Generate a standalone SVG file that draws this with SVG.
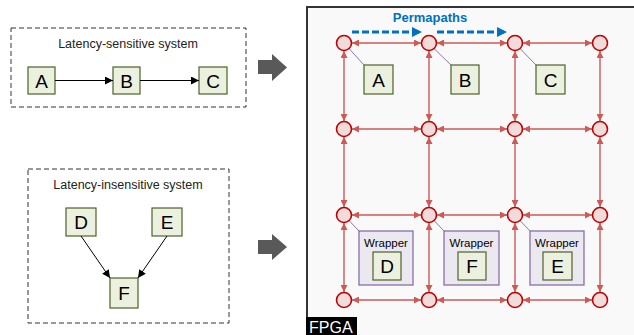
<svg xmlns="http://www.w3.org/2000/svg" width="634" height="335" viewBox="0 0 634 335">
<style>
.sys{fill:none;stroke:#333;stroke-width:1;stroke-dasharray:5,3}
.box{fill:#ebf1de;stroke:#4f6228;stroke-width:1.2}
.lbl{font-family:"Liberation Sans",Arial,sans-serif;fill:#000;text-anchor:middle}
.big{font-size:19px}
.cap{font-size:12.5px;fill:#222}
.blk{stroke:#000;stroke-width:1;fill:none}
.grid{stroke:#cc5a57;stroke-width:1.4;fill:none}
.rt{fill:#f2dcdb;stroke:#c00000;stroke-width:1.6}
.tie{stroke:#7a6aa8;stroke-width:0.9;fill:none}
.wrap{fill:#ece8f0;stroke:#8064a2;stroke-width:1.2}
.perm{stroke:#0070c0;stroke-width:3;stroke-dasharray:7,3;fill:none}
.garrow{fill:#595959}
</style>
<defs>
<marker id="ab" viewBox="0 0 10 10" refX="10" refY="5" markerWidth="10" markerHeight="8" markerUnits="userSpaceOnUse" orient="auto"><path d="M0,0 L10,5 L0,10 z" fill="#000"/></marker>
<marker id="ar" viewBox="0 0 10 10" refX="10" refY="5" markerWidth="7" markerHeight="7" markerUnits="userSpaceOnUse" orient="auto-start-reverse"><path d="M0,0 L10,5 L0,10 z" fill="#cc5a57"/></marker>
<marker id="ablue" viewBox="0 0 10 10" refX="10" refY="5" markerWidth="10" markerHeight="10" markerUnits="userSpaceOnUse" orient="auto"><path d="M0,0 L10,5 L0,10 z" fill="#0070c0"/></marker>
</defs>

<!-- Left: latency-sensitive system -->
<g id="sys-sensitive">
<rect class="sys" x="11" y="28" width="235" height="79"/>
<text class="lbl cap" x="128" y="48">Latency-sensitive system</text>
</g>
<g id="sys-insensitive">
<rect class="sys" x="28" y="169" width="201" height="154"/>
<text class="lbl cap" x="128" y="189">Latency-insensitive system</text>
</g>

<g id="nodeA"><rect class="box" x="28" y="67" width="27" height="27"/><text class="lbl big" x="41.5" y="87.5">A</text></g>
<g id="nodeB"><rect class="box" x="113" y="67" width="27" height="27"/><text class="lbl big" x="126.5" y="87.5">B</text></g>
<g id="nodeC"><rect class="box" x="199" y="67" width="28" height="27"/><text class="lbl big" x="213" y="87.5">C</text></g>
<g id="nodeD"><rect class="box" x="66" y="208" width="30" height="28"/><text class="lbl big" x="81" y="229">D</text></g>
<g id="nodeE"><rect class="box" x="152" y="208" width="30" height="28"/><text class="lbl big" x="167" y="229">E</text></g>
<g id="nodeF"><rect class="box" x="110" y="278" width="28" height="30"/><text class="lbl big" x="124" y="300">F</text></g>

<g id="left-connectors">
<line class="blk" x1="55" y1="80.5" x2="113" y2="80.5" marker-end="url(#ab)"/>
<line class="blk" x1="140" y1="80.5" x2="199" y2="80.5" marker-end="url(#ab)"/>
<line class="blk" x1="81" y1="236" x2="110" y2="278" marker-end="url(#ab)"/>
<line class="blk" x1="167" y1="236" x2="138" y2="278" marker-end="url(#ab)"/>
</g>

<!-- Big gray arrows -->
<g id="map-arrows">
<polygon class="garrow" points="258,60 272,60 272,54 287,67.5 272,81 272,74 258,74"/>
<polygon class="garrow" points="258,240 272,240 272,234 287,247 272,260 272,254 258,254"/>
</g>

<!-- FPGA -->
<g id="fpga">
<rect x="307" y="7" width="340" height="340" fill="#f9f9f9" stroke="#333" stroke-width="2"/>
<rect x="306" y="317" width="51" height="18" fill="#000"/>
<text x="309" y="333" font-family="'Liberation Sans',Arial,sans-serif" font-size="16" fill="#fff">FPGA</text>
</g>

<g id="permapaths">
<text x="430" y="22" font-family="'Liberation Sans',Arial,sans-serif" font-size="13" font-weight="bold" fill="#0070c0" text-anchor="middle">Permapaths</text>
<line class="perm" x1="352" y1="32" x2="422" y2="32" marker-end="url(#ablue)"/>
<line class="perm" x1="437" y1="32" x2="507" y2="32" marker-end="url(#ablue)"/>
</g>

<g id="grid-connectors">
<!-- horizontal -->
<line class="grid" x1="352" y1="43" x2="421" y2="43" marker-start="url(#ar)" marker-end="url(#ar)"/>
<line class="grid" x1="437" y1="43" x2="507" y2="43" marker-start="url(#ar)" marker-end="url(#ar)"/>
<line class="grid" x1="523" y1="43" x2="592" y2="43" marker-start="url(#ar)" marker-end="url(#ar)"/>
<line class="grid" x1="352" y1="129" x2="421" y2="129" marker-start="url(#ar)" marker-end="url(#ar)"/>
<line class="grid" x1="437" y1="129" x2="507" y2="129" marker-start="url(#ar)" marker-end="url(#ar)"/>
<line class="grid" x1="523" y1="129" x2="592" y2="129" marker-start="url(#ar)" marker-end="url(#ar)"/>
<line class="grid" x1="352" y1="215" x2="421" y2="215" marker-start="url(#ar)" marker-end="url(#ar)"/>
<line class="grid" x1="437" y1="215" x2="507" y2="215" marker-start="url(#ar)" marker-end="url(#ar)"/>
<line class="grid" x1="523" y1="215" x2="592" y2="215" marker-start="url(#ar)" marker-end="url(#ar)"/>
<line class="grid" x1="352" y1="300" x2="421" y2="300" marker-start="url(#ar)" marker-end="url(#ar)"/>
<line class="grid" x1="437" y1="300" x2="507" y2="300" marker-start="url(#ar)" marker-end="url(#ar)"/>
<line class="grid" x1="523" y1="300" x2="592" y2="300" marker-start="url(#ar)" marker-end="url(#ar)"/>
<!-- vertical -->
<line class="grid" x1="344" y1="51" x2="344" y2="121" marker-start="url(#ar)" marker-end="url(#ar)"/>
<line class="grid" x1="429" y1="51" x2="429" y2="121" marker-start="url(#ar)" marker-end="url(#ar)"/>
<line class="grid" x1="515" y1="51" x2="515" y2="121" marker-start="url(#ar)" marker-end="url(#ar)"/>
<line class="grid" x1="600" y1="51" x2="600" y2="121" marker-start="url(#ar)" marker-end="url(#ar)"/>
<line class="grid" x1="344" y1="137" x2="344" y2="207" marker-start="url(#ar)" marker-end="url(#ar)"/>
<line class="grid" x1="429" y1="137" x2="429" y2="207" marker-start="url(#ar)" marker-end="url(#ar)"/>
<line class="grid" x1="515" y1="137" x2="515" y2="207" marker-start="url(#ar)" marker-end="url(#ar)"/>
<line class="grid" x1="600" y1="137" x2="600" y2="207" marker-start="url(#ar)" marker-end="url(#ar)"/>
<line class="grid" x1="344" y1="223" x2="344" y2="292" marker-start="url(#ar)" marker-end="url(#ar)"/>
<line class="grid" x1="429" y1="223" x2="429" y2="292" marker-start="url(#ar)" marker-end="url(#ar)"/>
<line class="grid" x1="515" y1="223" x2="515" y2="292" marker-start="url(#ar)" marker-end="url(#ar)"/>
<line class="grid" x1="600" y1="223" x2="600" y2="292" marker-start="url(#ar)" marker-end="url(#ar)"/>
<!-- ties -->
<line class="tie" x1="349" y1="48.5" x2="364" y2="65"/>
<line class="tie" x1="434" y1="48.5" x2="451" y2="65"/>
<line class="tie" x1="520" y1="48.5" x2="536" y2="65"/>
<line class="tie" x1="349" y1="220.5" x2="359" y2="231"/>
<line class="tie" x1="434" y1="220.5" x2="444" y2="231"/>
<line class="tie" x1="520" y1="220.5" x2="530" y2="231"/>
</g>

<g id="routers">
<circle class="rt" cx="344" cy="43" r="7.5"/><circle class="rt" cx="429" cy="43" r="7.5"/><circle class="rt" cx="515" cy="43" r="7.5"/><circle class="rt" cx="600" cy="43" r="7.5"/>
<circle class="rt" cx="344" cy="129" r="7.5"/><circle class="rt" cx="429" cy="129" r="7.5"/><circle class="rt" cx="515" cy="129" r="7.5"/><circle class="rt" cx="600" cy="129" r="7.5"/>
<circle class="rt" cx="344" cy="215" r="7.5"/><circle class="rt" cx="429" cy="215" r="7.5"/><circle class="rt" cx="515" cy="215" r="7.5"/><circle class="rt" cx="600" cy="215" r="7.5"/>
<circle class="rt" cx="344" cy="300" r="7.5"/><circle class="rt" cx="429" cy="300" r="7.5"/><circle class="rt" cx="515" cy="300" r="7.5"/><circle class="rt" cx="600" cy="300" r="7.5"/>
</g>

<g id="fpgaA"><rect class="box" x="364" y="65" width="29" height="29"/><text class="lbl big" x="378.5" y="86.5">A</text></g>
<g id="fpgaB"><rect class="box" x="451" y="65" width="28" height="29"/><text class="lbl big" x="465" y="86.5">B</text></g>
<g id="fpgaC"><rect class="box" x="536" y="65" width="29" height="29"/><text class="lbl big" x="550.5" y="86.5">C</text></g>

<g id="wrapD"><rect class="wrap" x="359" y="231" width="54" height="54"/><text class="lbl" x="386" y="247" font-size="11.5" fill="#333">Wrapper</text><rect class="box" x="373" y="252" width="28" height="28"/><text class="lbl big" x="387" y="273">D</text></g>
<g id="wrapF"><rect class="wrap" x="444" y="231" width="55" height="54"/><text class="lbl" x="471.5" y="247" font-size="11.5" fill="#333">Wrapper</text><rect class="box" x="458" y="252" width="28" height="28"/><text class="lbl big" x="472" y="273">F</text></g>
<g id="wrapE"><rect class="wrap" x="530" y="231" width="54" height="54"/><text class="lbl" x="557" y="247" font-size="11.5" fill="#333">Wrapper</text><rect class="box" x="543" y="252" width="29" height="28"/><text class="lbl big" x="557.5" y="273">E</text></g>
</svg>
